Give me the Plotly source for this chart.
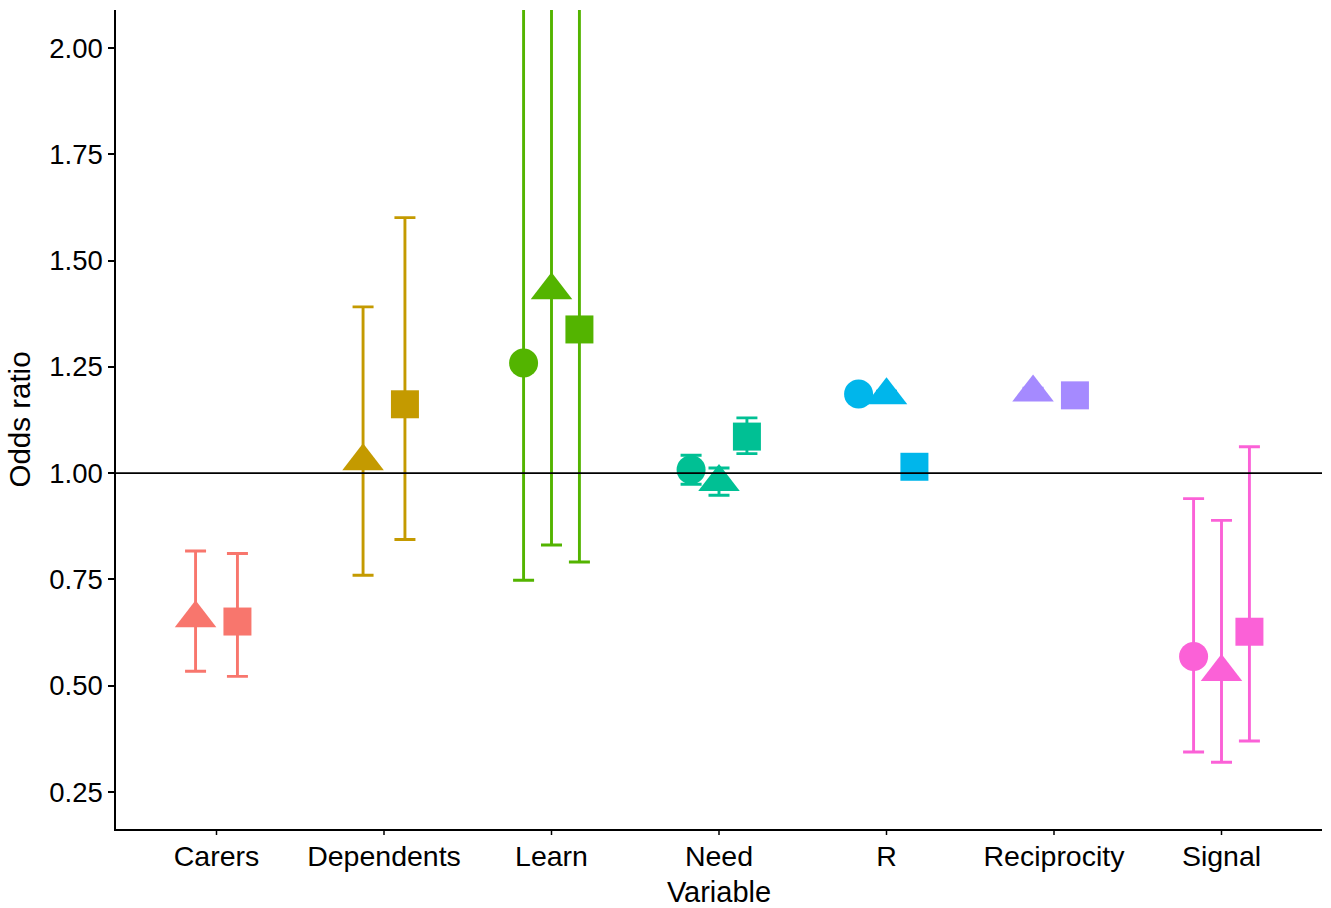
import plotly.graph_objects as go

# ---- data ----
variables = ["Carers", "Dependents", "Learn", "Need", "R", "Reciprocity", "Signal"]
colors = ["#F8766D", "#C49A00", "#53B400", "#00C094", "#00B6EB", "#A58AFF", "#FB61D7"]
models = ["Model 1", "Model 2", "Model 3"]
model_symbols = ["circle", "triangle-up", "square"]
model_sizes = [29, 36, 28]

# Model 1 (circle)
m1_vars = ["Learn", "Need", "R", "Signal"]
m1_or = [1.259, 1.008, 1.186, 0.569]
m1_lo = [0.748, 0.974, 1.176, 0.344]
m1_hi = [2.120, 1.042, 1.196, 0.940]

# Model 2 (triangle)
m2_vars = ["Carers", "Dependents", "Learn", "Need", "R", "Reciprocity", "Signal"]
m2_or = [0.659, 1.028, 1.430, 0.979, 1.183, 1.190, 0.532]
m2_lo = [0.534, 0.760, 0.831, 0.948, 1.173, 1.180, 0.320]
m2_hi = [0.817, 1.391, 2.460, 1.012, 1.193, 1.200, 0.889]

# Model 3 (square)
m3_vars = ["Carers", "Dependents", "Learn", "Need", "R", "Reciprocity", "Signal"]
m3_or = [0.651, 1.162, 1.338, 1.086, 1.015, 1.183, 0.627]
m3_lo = [0.522, 0.844, 0.791, 1.046, 1.005, 1.173, 0.370]
m3_hi = [0.811, 1.601, 2.260, 1.130, 1.025, 1.193, 1.062]

y_ticks = [0.25, 0.50, 0.75, 1.00, 1.25, 1.50, 1.75, 2.00]

model_data = [
    (m1_vars, m1_or, m1_lo, m1_hi),
    (m2_vars, m2_or, m2_lo, m2_hi),
    (m3_vars, m3_or, m3_lo, m3_hi),
]

dodge_width = 0.5

fig = go.Figure()

for vi, var in enumerate(variables):
    present = [mi for mi, d in enumerate(model_data) if var in d[0]]
    n = len(present)
    xs, ys, ups, downs, syms, sizes, names = [], [], [], [], [], [], []
    for k, mi in enumerate(present):
        vlist, orl, lol, hil = model_data[mi]
        j = vlist.index(var)
        offset = (k - (n - 1) / 2) * dodge_width / n
        xs.append(vi + offset)
        ys.append(orl[j])
        ups.append(hil[j] - orl[j])
        downs.append(orl[j] - lol[j])
        syms.append(model_symbols[mi])
        sizes.append(model_sizes[mi])
        names.append(models[mi])
    fig.add_trace(go.Scatter(
        x=xs, y=ys, mode="markers", name=var, showlegend=False,
        text=names,
        marker=dict(color=colors[vi], symbol=syms, size=sizes, opacity=1,
                    line=dict(width=0)),
        error_y=dict(type="data", symmetric=False, array=ups, arrayminus=downs,
                     color=colors[vi], thickness=2.9, width=10.5),
    ))

# reference line at odds ratio = 1
fig.add_shape(type="line", xref="paper", x0=0, x1=1, yref="y", y0=1.0, y1=1.0,
              line=dict(color="black", width=1.6), layer="above")

# x-axis tick marks (outside, 6 px)
for vi in range(len(variables)):
    fig.add_shape(type="line", xref="x", x0=vi, x1=vi,
                  yref="paper", ysizemode="pixel", yanchor=0, y0=0, y1=-6,
                  line=dict(color="black", width=1.5), layer="above")

font_family = "Liberation Sans, Arial, sans-serif"

fig.update_layout(
    width=1331, height=908,
    margin=dict(l=116, r=9, t=10, b=79, autoexpand=False),
    paper_bgcolor="white", plot_bgcolor="white",
    font=dict(family=font_family, color="black"),
    xaxis=dict(
        range=[-0.6, 6.6], automargin=False,
        tickmode="array", tickvals=list(range(len(variables))), ticktext=variables,
        showgrid=False, zeroline=False,
        showline=True, linecolor="black", linewidth=1.5,
        ticks="", ticklabelstandoff=1,
        tickfont=dict(size=28.5, color="black", family=font_family),
        title=dict(text="Variable", font=dict(size=29, color="black", family=font_family)),
    ),
    yaxis=dict(
        range=[0.163, 2.0894], automargin=False,
        tickmode="array", tickvals=y_ticks, ticktext=[f"{v:.2f}" for v in y_ticks],
        showgrid=False, zeroline=False,
        showline=True, linecolor="black", linewidth=1.5,
        ticks="outside", ticklen=6, tickwidth=1.5, tickcolor="black",
        tickfont=dict(size=27.5, color="black", family=font_family),
        title=dict(text="Odds ratio", font=dict(size=29.5, color="black", family=font_family),
                   standoff=10),
    ),
)

fig.write_html("out.html", config={"displayModeBar": False},
               post_script="document.body.style.margin='0';document.body.style.padding='0';")
